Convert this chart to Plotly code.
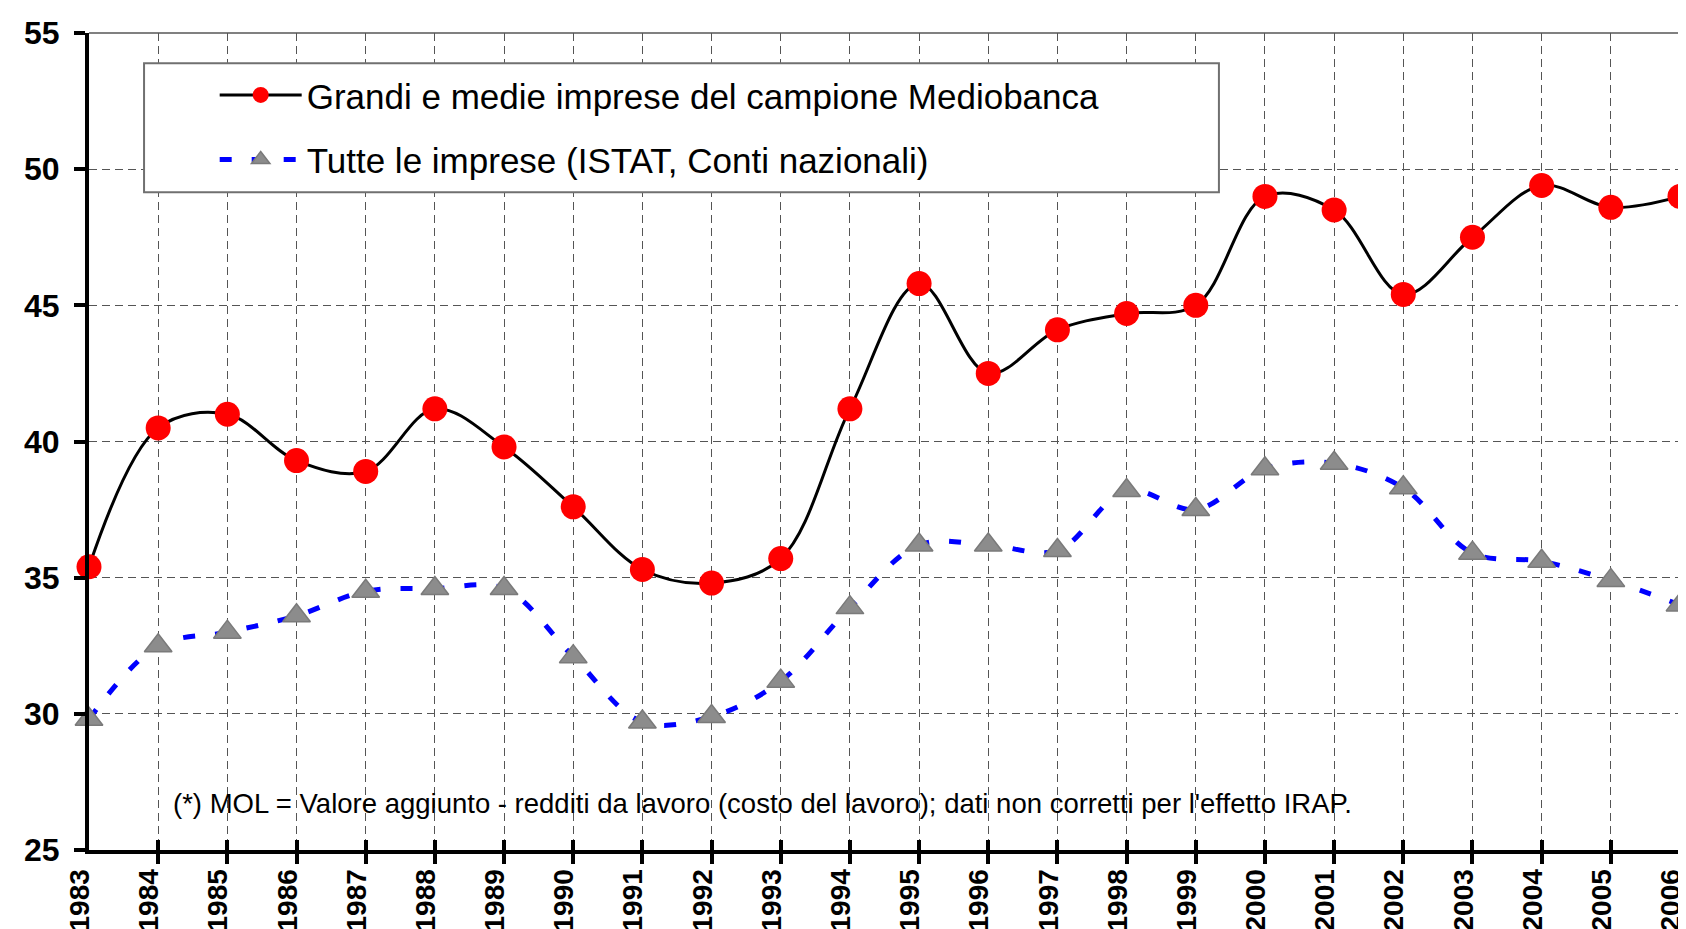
import plotly.graph_objects as go

# Data
years = list(range(1983, 2007))
mediobanca = [35.4, 40.5, 41.0, 39.3, 38.9, 41.2, 39.8, 37.6, 35.3, 34.8, 35.7, 41.2,
              45.8, 42.5, 44.1, 44.7, 45.0, 49.0, 48.5, 45.4, 47.5, 49.4, 48.6, 49.0]
istat = [29.8, 32.5, 33.0, 33.6, 34.5, 34.6, 34.6, 32.1, 29.7, 29.9, 31.2, 33.9,
         36.2, 36.2, 36.0, 38.2, 37.5, 39.0, 39.2, 38.3, 35.9, 35.6, 34.9, 34.0]
y_ticks = [25, 30, 35, 40, 45, 50, 55]

name_mb = "Grandi e medie imprese del campione Mediobanca"
name_istat = "Tutte le imprese (ISTAT, Conti nazionali)"
note = "(*) MOL = Valore aggiunto - redditi da lavoro (costo del lavoro); dati non corretti per l'effetto IRAP."

fig = go.Figure()

fig.add_trace(go.Scatter(
    x=years, y=mediobanca, name=name_mb, mode="lines+markers",
    line=dict(color="black", width=3, shape="spline", smoothing=1),
    marker=dict(symbol="circle", size=25, color="#ff0000"),
    cliponaxis=False, legendgroup="a",
))
fig.add_trace(go.Scatter(
    x=years, y=istat, name=name_istat, mode="lines+markers",
    line=dict(color="#0000ff", width=5, dash="12px,20px", shape="spline", smoothing=1),
    marker=dict(symbol="triangle-up", size=24, color="#8c8c8c",
                line=dict(color="#7a7a7a", width=1.5)),
    cliponaxis=False, legendgroup="b",
))

fig.update_xaxes(
    range=[1983, 2006], tickmode="linear", tick0=1983, dtick=1,
    showline=True, linecolor="black", linewidth=4,
    # major ticks inside, minor ticks outside: together they cross the axis
    ticks="inside", ticklen=10, tickwidth=4, tickcolor="black",
    minor=dict(ticks="outside", ticklen=10, tickwidth=4, tickcolor="black",
               tick0=1983, dtick=1, showgrid=False),
    tickangle=-90, ticklabeloverflow="allow", ticklabelshift=-9, ticklabelstandoff=4,
    tickfont=dict(family="Liberation Sans", size=28, color="black", weight="bold"),
    showgrid=True, gridcolor="#555555", gridwidth=1, griddash="8px,5px",
    zeroline=False, automargin=False,
)
fig.update_yaxes(
    range=[25, 55], tickvals=y_ticks,
    showline=True, linecolor="black", linewidth=4,
    ticks="outside", ticklen=11, tickwidth=4, tickcolor="black",
    ticklabelstandoff=8,
    tickfont=dict(family="Liberation Sans", size=32, color="black", weight="bold"),
    showgrid=True, gridcolor="#555555", gridwidth=1, griddash="8px,5px",
    zeroline=False, automargin=False,
)

fig.update_layout(
    width=1686, height=929,
    margin=dict(l=81, r=14, t=25, b=87),
    plot_bgcolor="white", paper_bgcolor="white",
    showlegend=True,
    legend=dict(
        x=0.079, y=0.96, xanchor="left", yanchor="top",
        bgcolor="rgba(0,0,0,0)", borderwidth=0,
        font=dict(family="Liberation Sans", size=35, color="black"),
        traceorder="grouped", tracegroupgap=16, itemwidth=82,
    ),
    shapes=[
        # legend box
        dict(type="rect", xref="paper", yref="paper", x0=0.0346, x1=0.7102, y0=0.805, y1=0.963,
             fillcolor="white", line=dict(color="#707070", width=2), layer="above"),
        # top and right frame of plot area
        dict(type="line", xref="paper", yref="paper", x0=0, x1=1, y0=1, y1=1,
             line=dict(color="#808080", width=2), layer="between"),
        dict(type="line", xref="paper", yref="paper", x0=1, x1=1, y0=0, y1=1,
             line=dict(color="#808080", width=2), layer="between"),
    ],
    annotations=[
        dict(text=note, xref="paper", yref="paper", x=0.0515, y=0.0575,
             xanchor="left", yanchor="middle", showarrow=False,
             font=dict(family="Liberation Sans", size=27.5, color="black")),
    ],
)

fig.write_html("out.html")
